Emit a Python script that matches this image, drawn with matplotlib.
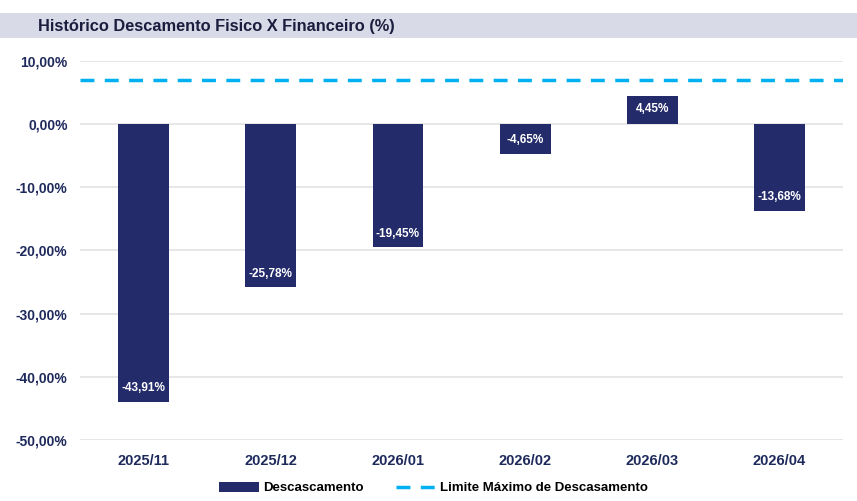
import matplotlib.pyplot as plt
from matplotlib.patches import Rectangle

# Data
categories = ['2025/11', '2025/12', '2026/01', '2026/02', '2026/03', '2026/04']
descasamento = [-43.91, -25.78, -19.45, -4.65, 4.45, -13.68]
limite_maximo = 7.0
yticks = [10, 0, -10, -20, -30, -40, -50]

navy = '#232B6B'
light_blue = '#00B0F0'

def br_pct(v):
    return f'{v:.2f}%'.replace('.', ',')

plt.rcParams['font.family'] = ['Liberation Sans', 'DejaVu Sans']

fig = plt.figure(figsize=(8.57, 5.01), dpi=100)
ax = fig.add_axes([0.0934, 0.1218, 0.8903, 0.7565])

# Title bar
fig.patches.append(Rectangle((0, 1 - 38 / 501), 1, 25 / 501, transform=fig.transFigure,
                             facecolor='#D9DAE8', edgecolor='none', zorder=0))
fig.text(38 / 857, 1 - 26 / 501, 'Histórico Descamento Fisico X Financeiro (%)',
         fontsize=11.8, fontweight='bold', color='#1A1D3D', va='center', ha='left')

x = range(len(categories))
bars = ax.bar(x, descasamento, width=0.4, color=navy, zorder=3, label='Descascamento')
limit_line = ax.axhline(limite_maximo, color=light_blue, lw=2.5, ls=(0, (4, 3)), zorder=4,
                        label='Limite Máximo de Descasamento')

for i, v in enumerate(descasamento):
    off = -2.1 if v < 0 else 2.1
    ax.text(i, v - off, br_pct(v), ha='center', va='center', color='white',
            fontsize=8.5, fontweight='bold', zorder=5)

ax.set_xlim(-0.5, len(categories) - 0.5)
ax.set_ylim(-50, 10)
ax.set_yticks(yticks)
ax.set_yticklabels([br_pct(t) for t in yticks])
ax.set_xticks(list(x))
ax.set_xticklabels(categories)
ax.yaxis.grid(True, color='#E3E3E3', lw=1.2, zorder=0)
ax.set_axisbelow(True)
for s in ax.spines.values():
    s.set_visible(False)
ax.tick_params(axis='y', length=0, labelsize=10, labelcolor='#1F2A5C', pad=9)
ax.tick_params(axis='x', length=0, labelsize=10.5, labelcolor='#1F2A5C', pad=10)
for lbl in ax.get_xticklabels() + ax.get_yticklabels():
    lbl.set_fontweight('bold')

fig.legend([bars, limit_line], ['Descascamento', 'Limite Máximo de Descasamento'],
           loc='center', bbox_to_anchor=(0.506, 1 - 488 / 501), ncol=2, frameon=False,
           prop={'weight': 'bold', 'size': 9.5}, handlelength=3.0, handleheight=0.8,
           columnspacing=2.5, handletextpad=0.3)

fig.savefig('out.png', dpi=100)
